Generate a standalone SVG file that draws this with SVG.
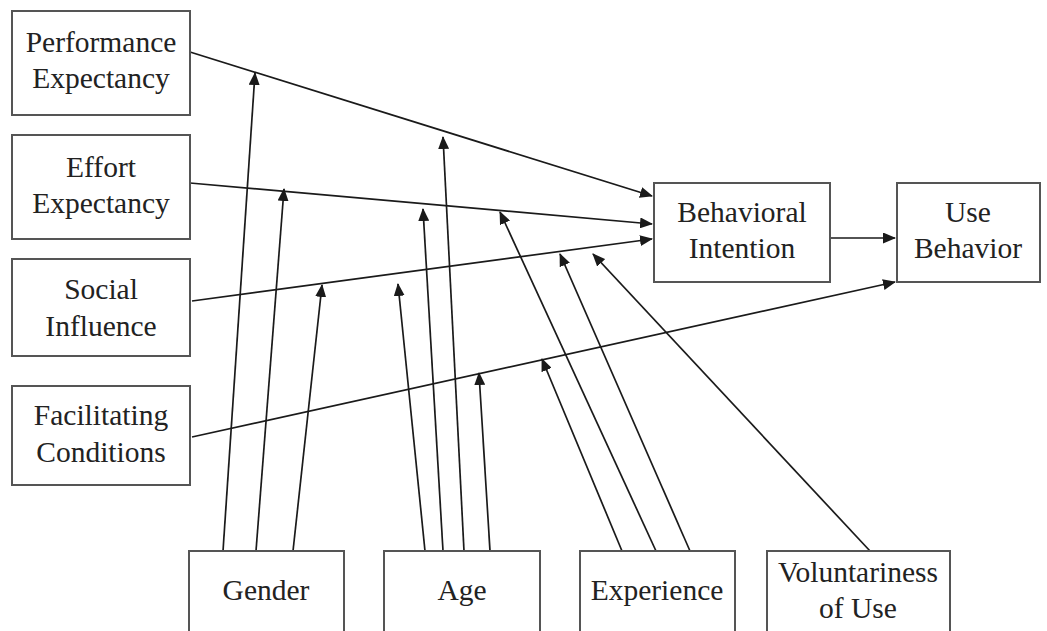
<svg xmlns="http://www.w3.org/2000/svg" width="1047" height="631" viewBox="0 0 1047 631">
<style>
.box{fill:#fff;stroke:#555;stroke-width:2}
text{font-family:'Liberation Serif','Times New Roman',serif;font-size:29.5px;fill:#222;text-anchor:middle}
.c{stroke:#1a1a1a;stroke-width:1.7;fill:none;marker-end:url(#ah)}
</style>
<defs>
<marker id="ah" markerUnits="userSpaceOnUse" markerWidth="13" markerHeight="11" refX="12" refY="5.5" orient="auto">
<path d="M0,0 L13,5.5 L0,11 z" fill="#1a1a1a"/>
</marker>
</defs>
<rect width="1047" height="631" fill="#fff"/>
<g id="connectors">
<line class="c" x1="190" y1="52" x2="652" y2="196"/>
<line class="c" x1="190" y1="183" x2="652" y2="224"/>
<line class="c" x1="192" y1="301" x2="652" y2="239"/>
<line class="c" x1="192" y1="437" x2="895" y2="282"/>
<line class="c" x1="830" y1="238" x2="895" y2="238"/>
<line class="c" x1="223" y1="551" x2="255" y2="73"/>
<line class="c" x1="256" y1="551" x2="284" y2="189"/>
<line class="c" x1="293" y1="551" x2="322" y2="285"/>
<line class="c" x1="425" y1="551" x2="398" y2="284"/>
<line class="c" x1="443" y1="551" x2="423" y2="209"/>
<line class="c" x1="464" y1="551" x2="443" y2="137"/>
<line class="c" x1="490" y1="551" x2="479" y2="373"/>
<line class="c" x1="622" y1="551" x2="542" y2="359"/>
<line class="c" x1="656" y1="551" x2="500" y2="212"/>
<line class="c" x1="690" y1="551" x2="560" y2="254"/>
<line class="c" x1="870" y1="551" x2="593" y2="254"/>
</g>
<g id="performance-expectancy">
<rect class="box" x="12" y="11" width="178" height="104"/>
<text x="101" y="52">Performance</text>
<text x="101" y="88">Expectancy</text>
</g>
<g id="effort-expectancy">
<rect class="box" x="12" y="135" width="178" height="104"/>
<text x="101" y="177">Effort</text>
<text x="101" y="213">Expectancy</text>
</g>
<g id="social-influence">
<rect class="box" x="12" y="259" width="178" height="97"/>
<text x="101" y="299">Social</text>
<text x="101" y="336">Influence</text>
</g>
<g id="facilitating-conditions">
<rect class="box" x="12" y="386" width="178" height="99"/>
<text x="101" y="425">Facilitating</text>
<text x="101" y="462">Conditions</text>
</g>
<g id="behavioral-intention">
<rect class="box" x="654" y="183" width="176" height="99"/>
<text x="742" y="222">Behavioral</text>
<text x="742" y="258">Intention</text>
</g>
<g id="use-behavior">
<rect class="box" x="897" y="183" width="143" height="99"/>
<text x="968" y="222">Use</text>
<text x="968" y="258">Behavior</text>
</g>
<g id="gender">
<rect class="box" x="189" y="551" width="155" height="100"/>
<text x="266" y="600">Gender</text>
</g>
<g id="age">
<rect class="box" x="384" y="551" width="156" height="100"/>
<text x="462" y="600">Age</text>
</g>
<g id="experience">
<rect class="box" x="580" y="551" width="155" height="100"/>
<text x="657" y="600">Experience</text>
</g>
<g id="voluntariness-of-use">
<rect class="box" x="767" y="551" width="183" height="100"/>
<text x="858" y="582">Voluntariness</text>
<text x="858" y="618">of Use</text>
</g>
</svg>
